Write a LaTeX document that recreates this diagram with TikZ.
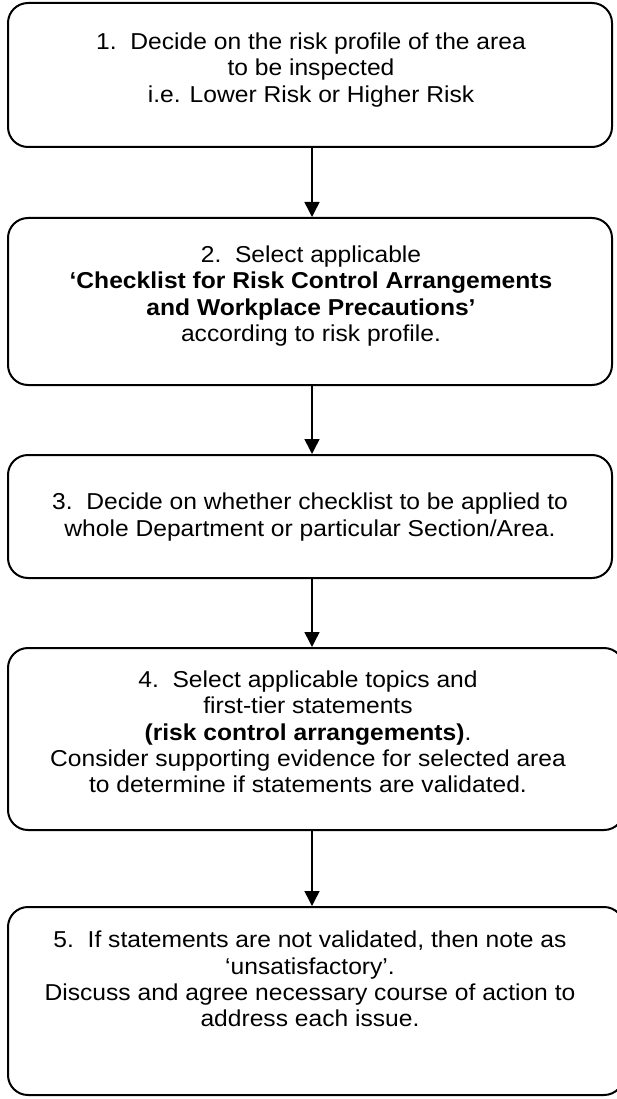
\documentclass[tikz,border=0pt]{standalone}
\usepackage{fontspec}
\setmainfont{Liberation Sans}[FakeStretch=1.07]
\usetikzlibrary{arrows.meta}
\begin{document}
\begin{tikzpicture}[x=1pt,y=-1pt,
  box/.style={draw,line width=2pt,rounded corners=20pt,inner sep=0pt},
  txt/.style={align=center,font=\fontsize{23}{26.3}\selectfont,inner sep=0pt},
  arr/.style={line width=1.5pt,-{Triangle[length=15pt,width=15pt]}}]
\useasboundingbox (0,0) rectangle (617,1099);
\node[box,minimum width=604pt,minimum height=144pt] (b1) at (310,75) {};
\node[box,minimum width=604pt,minimum height=167pt] (b2) at (310,301.5) {};
\node[box,minimum width=604pt,minimum height=123pt] (b3) at (310,516.5) {};
\node[box,minimum width=616pt,minimum height=182pt] (b4) at (316,739) {};
\node[box,minimum width=616pt,minimum height=188pt] (b5) at (316,1001) {};
\node[txt] (t1) at (311,70) {1.\ \ Decide on the risk profile of the area\\to be inspected\\i.e. Lower Risk or Higher Risk};
\node[txt] (t2) at (311,296) {2.\ \ Select applicable\\\textbf{‘Checklist for Risk Control Arrangements}\\\textbf{and Workplace Precautions’}\\according to risk profile.};
\node[txt] (t3) at (310,517) {3.\ \ Decide on whether checklist to be applied to\\whole Department or particular Section/Area.};
\node[txt] (t4) at (308,732) {4.\ \ Select applicable topics and\\first-tier statements\\\textbf{(risk control arrangements)}.\\Consider supporting evidence for selected area\\to determine if statements are validated.};
\node[txt] (t5) at (310,979) {5.\ \ If statements are not validated, then note as\\‘unsatisfactory’.\\Discuss and agree necessary course of action to\\address each issue.};
\draw[arr] (b1.south -| 312,0) -- (b2.north -| 312,0);
\draw[arr] (b2.south -| 312,0) -- (b3.north -| 312,0);
\draw[arr] (b3.south -| 312,0) -- (b4.north -| 312,0);
\draw[arr] (b4.south -| 312,0) -- (b5.north -| 312,0);
\end{tikzpicture}
\end{document}
